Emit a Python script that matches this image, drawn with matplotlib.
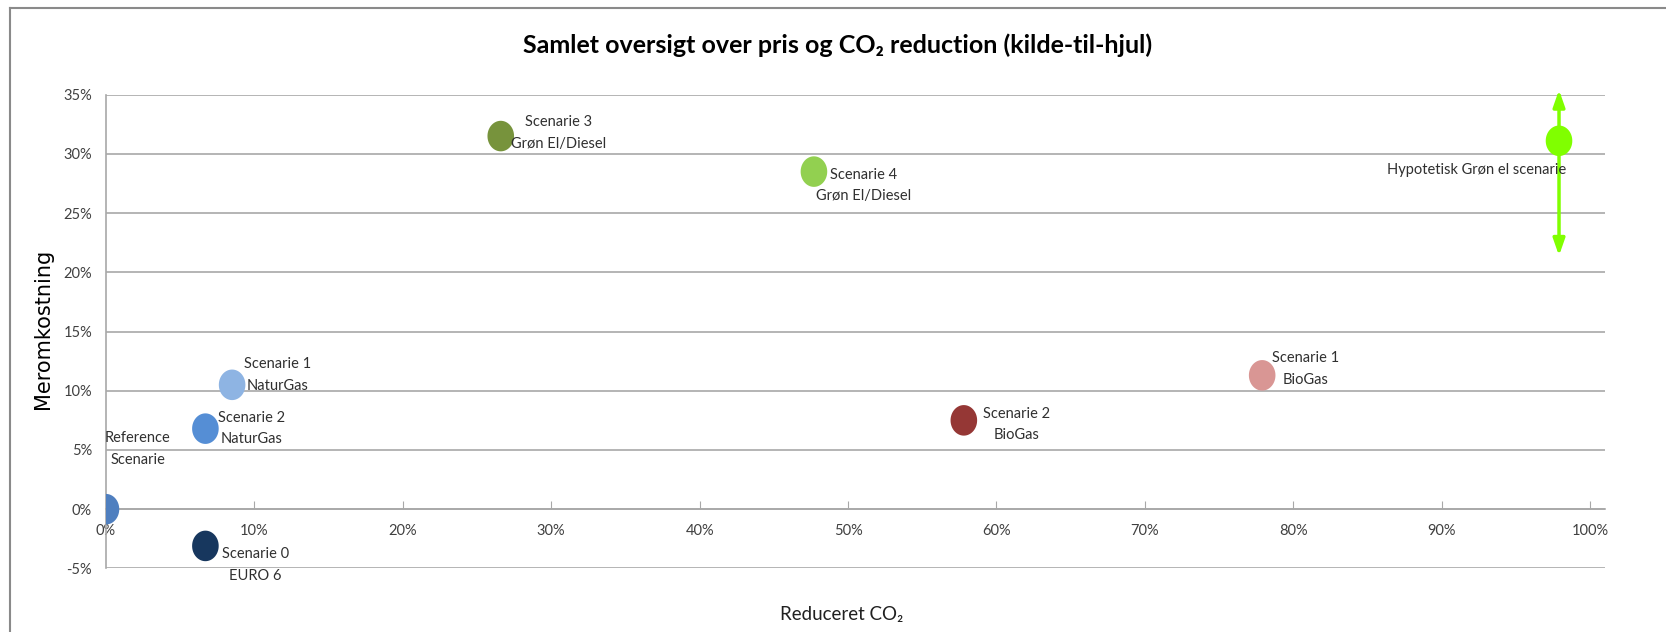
import numpy as np
import matplotlib
matplotlib.use('Agg')
import matplotlib.pyplot as plt
from matplotlib.path import Path
from matplotlib.ticker import PercentFormatter
from matplotlib.lines import Line2D

plt.rcParams['axes.unicode_minus'] = False

### DATA ######################################################################
labels = ['Reference\nScenarie', 'Scenarie 0\nEURO 6', 'Scenarie 2\nNaturGas',
          'Scenarie 1\nNaturGas', 'Scenarie 3\nGrøn El/Diesel', 'Scenarie 4\nGrøn El/Diesel',
          'Scenarie 2\nBioGas', 'Scenarie 1\nBioGas', 'Hypotetisk Grøn el scenarie']
co2_red  = [0.0, 0.067, 0.067, 0.085, 0.266, 0.477, 0.578, 0.779, 0.979]
meromk   = [0.0, -0.031, 0.068, 0.105, 0.315, 0.285, 0.075, 0.113, 0.311]
hyp_range = [0.214, 0.354]   # span of the double arrow for the hypothetical scenario

### STYLE #####################################################################
colors = ['#4f7fbf', '#17375e', '#558ed5', '#8eb4e3', '#77933c',
          '#92d050', '#953735', '#d99694', '#80ff00']
# label offsets (pixels) relative to each point
offs = [(32, 60), (50, -19), (46, 0), (45, 10), (58, 3),
        (50, -14), (53, -4), (43, 6), (-82, -29)]
fnt = ['Lato', 'DejaVu Sans']
gridc = '#a8a8a8'

# vertical ellipse marker
th = np.linspace(0, 2*np.pi, 60)
ell = Path(np.column_stack([0.87*np.cos(th), np.sin(th)]), closed=True)

fig = plt.figure(figsize=(16.66, 6.32), dpi=100)
ax = fig.add_axes([0.0636, 0.1006, 0.8998, 0.7497])

ax.set_xlim(0, 1.01)
ax.set_ylim(-0.05, 0.35)
ax.set_xticks(np.arange(0, 1.01, 0.1))
ax.set_yticks(np.arange(-0.05, 0.351, 0.05))
ax.xaxis.set_major_formatter(PercentFormatter(1.0, decimals=0))
ax.yaxis.set_major_formatter(PercentFormatter(1.0, decimals=0))
ax.grid(axis='y', color=gridc, linewidth=1.2)
ax.set_axisbelow(True)

for s in ['top', 'right']:
    ax.spines[s].set_visible(False)
ax.spines['left'].set_color(gridc)
ax.spines['left'].set_linewidth(1.2)
ax.spines['bottom'].set_position(('data', 0))
ax.spines['bottom'].set_color(gridc)
ax.spines['bottom'].set_linewidth(1.2)
ax.tick_params(axis='x', direction='in', length=6, color=gridc, pad=11)
ax.tick_params(axis='y', length=0, pad=10)
for lab in ax.get_xticklabels() + ax.get_yticklabels():
    lab.set_family(fnt)
    lab.set_fontsize(10.5)
    lab.set_color('#404040')

# arrow for hypothetical scenario
ax.annotate('', xy=(co2_red[-1], hyp_range[1]), xytext=(co2_red[-1], hyp_range[0]),
            arrowprops=dict(arrowstyle='<|-|>,head_width=0.35,head_length=1.0',
                            color=colors[-1], lw=2.5, shrinkA=0, shrinkB=0),
            annotation_clip=False, zorder=4)

ax.scatter(co2_red, meromk, marker=ell, s=22**2, c=colors, linewidths=0, zorder=3)
for i in range(len(labels)):
    ax.annotate(labels[i], (co2_red[i], meromk[i]), xytext=offs[i],
                textcoords='offset pixels', ha='center', va='center',
                family=fnt, fontsize=10.5, color='#303030',
                linespacing=1.7, zorder=5)

fig.text(0.503, 0.929, 'Samlet oversigt over pris og CO₂ reduction (kilde-til-hjul)',
         ha='center', va='center', family=fnt, fontsize=18, fontweight='bold')
fig.text(0.026, 0.479, 'Meromkostning', rotation=90, ha='center', va='center',
         family='DejaVu Sans', fontsize=15)
fig.text(0.505, 0.028, 'Reduceret CO₂', ha='center', va='center',
         family=fnt, fontsize=13.5, color='#202020')

# outer chart frame (top and left edges)
fig.add_artist(Line2D([10/1666, 1], [1-8/632, 1-8/632], color='#8a8a8a', lw=1.5))
fig.add_artist(Line2D([10/1666, 10/1666], [0, 1-8/632], color='#8a8a8a', lw=1.5))

plt.savefig('out.png', dpi=100)
